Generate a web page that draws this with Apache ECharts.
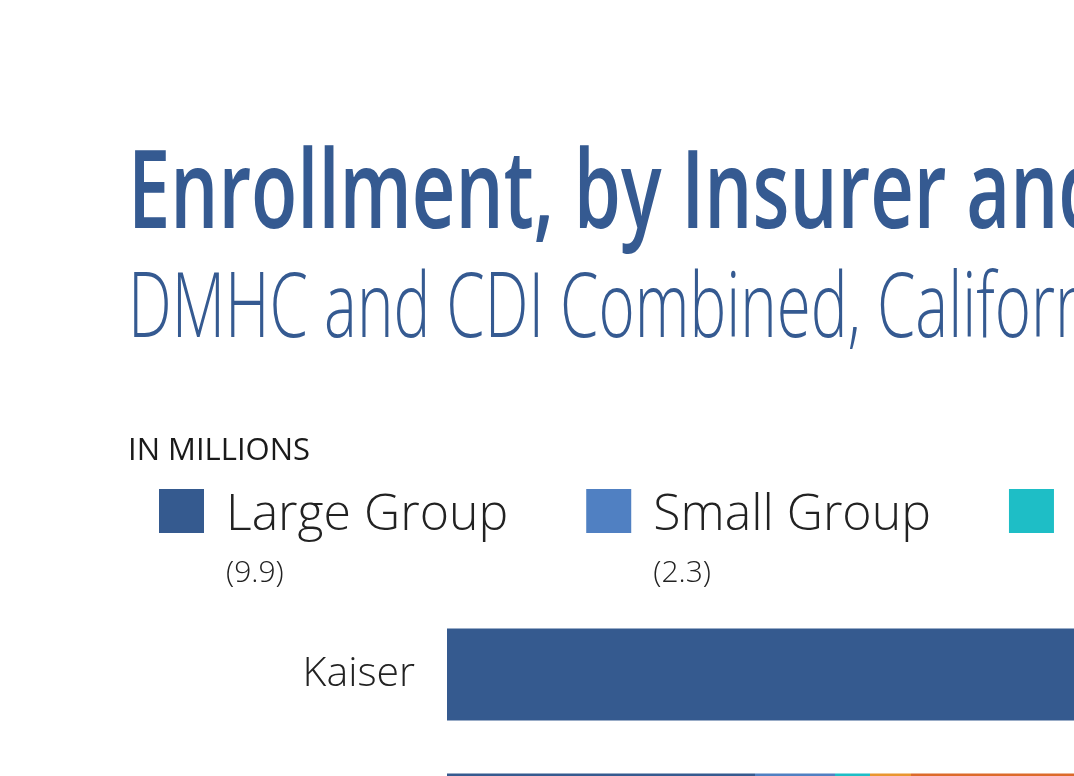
<!DOCTYPE html>
<html>
<head>
<meta charset="utf-8">
<script src="https://cdn.jsdelivr.net/npm/echarts@6/dist/echarts.min.js"></script>
<style>
  html, body { margin: 0; padding: 0; background: #ffffff; }
  #chart { width: 1074px; height: 776px; }
</style>
</head>
<body>
<div id="chart"></div>
<script>
// ---- data (millions) ----
var insurers = ['Kaiser', 'Anthem Blue Cross'];
var marketNames = ['Large Group', 'Small Group', 'Individual', 'Medicare', 'Medi-Cal'];
var marketTotals = ['9.9', '2.3', '2.2', '1.9', '9.6'];
var largeGroup = [4.6, 1.54];
var smallGroup = [0.9, 0.40];
var individual = [0.6, 0.175];
var medicare = [1.4, 0.205];
var mediCal = [1.2, 1.5];

var titleText = 'Enrollment, by Insurer and Market';
var subtitleText = 'DMHC and CDI Combined, California, 2017';
var unitText = 'IN MILLIONS';

var colors = ['#355a8f', '#5080c2', '#1ebec6', '#e9962f', '#dc6a2a'];
var seriesValues = [largeGroup, smallGroup, individual, medicare, mediCal];

var chart = echarts.init(document.getElementById('chart'), null, { renderer: 'canvas' });

var rich = {
  a: { fontFamily: 'Open Sans', fontWeight: 300, fontSize: 50, lineHeight: 66, color: '#222222' },
  b: { fontFamily: 'Open Sans', fontWeight: 300, fontSize: 30, lineHeight: 48, color: '#222222' }
};

var option = {
  backgroundColor: '#ffffff',
  animation: false,
  color: colors,
  graphic: [
    {
      type: 'text', x: 128, y: 197, scaleX: 0.695, silent: true,
      style: {
        text: titleText, x: 0, y: 0, align: 'left', verticalAlign: 'middle',
        fontFamily: 'Open Sans', fontWeight: 600, fontSize: 109, fill: '#355a91'
      }
    },
    {
      type: 'text', x: 128, y: 311, scaleX: 0.68, silent: true,
      style: {
        text: subtitleText, x: 0, y: 0, align: 'left', verticalAlign: 'middle',
        fontFamily: 'Open Sans', fontWeight: 300, fontSize: 91, fill: '#355a91'
      }
    },
    {
      type: 'text', x: 128, y: 451, silent: true,
      style: {
        text: unitText, x: 0, y: 0, align: 'left', verticalAlign: 'middle',
        fontFamily: 'Open Sans', fontWeight: 'normal', fontSize: 31, fill: '#1a1a1a'
      }
    }
  ],
  legend: {
    orient: 'horizontal',
    left: 159,
    top: 489,
    width: 4000,
    padding: 0,
    itemGap: 78,
    itemWidth: 45,
    itemHeight: 44,
    icon: 'rect',
    selectedMode: false,
    data: marketNames,
    formatter: function (name) {
      var i = marketNames.indexOf(name);
      return '{a|' + name + '}\n{b|(' + marketTotals[i] + ')}';
    },
    textStyle: {
      padding: [58, 0, 0, 17],
      rich: rich
    }
  },
  grid: {
    left: 447,
    top: 602,
    width: 2000,
    height: 290,
    containLabel: false,
    outerBoundsMode: 'none'
  },
  xAxis: {
    type: 'value',
    min: 0,
    max: 10,
    show: false
  },
  yAxis: {
    type: 'category',
    data: insurers,
    inverse: true,
    axisLine: { show: false },
    axisTick: { show: false },
    splitLine: { show: false },
    axisLabel: {
      margin: 32,
      padding: [7, 0, 0, 0],
      fontFamily: 'Open Sans',
      fontWeight: 300,
      fontSize: 41,
      color: '#222222'
    }
  },
  series: marketNames.map(function (n, i) {
    return {
      name: n,
      type: 'bar',
      stack: 'total',
      barWidth: 92,
      data: seriesValues[i],
      itemStyle: { color: colors[i] },
      emphasis: { disabled: true }
    };
  })
};

chart.setOption(option);
</script>
</body>
</html>
